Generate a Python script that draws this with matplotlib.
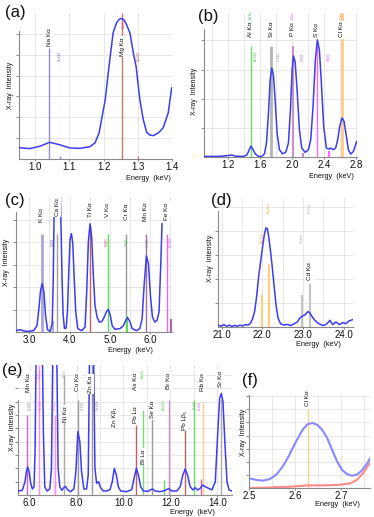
import matplotlib.pyplot as plt
from matplotlib.ticker import MultipleLocator, FormatStrFormatter

plt.rcParams['font.family'] = ['Liberation Sans', 'DejaVu Sans']

# ---- (a) Na / Mg region ----
a_keV = [0.953, 0.985, 1.014, 1.042, 1.068, 1.102, 1.131, 1.160, 1.175, 1.187, 1.196, 1.205,
         1.216, 1.228, 1.238, 1.246, 1.253, 1.260, 1.267, 1.277, 1.287, 1.295, 1.306, 1.316,
         1.326, 1.335, 1.345, 1.360, 1.374, 1.389, 1.399]
a_int = [0.54, 0.50, 0.61, 0.80, 0.70, 0.53, 0.51, 0.59, 0.77, 1.25, 2.05, 2.85,
         4.45, 6.05, 6.53, 6.70, 6.74, 6.67, 6.45, 6.05, 5.09, 4.45, 2.85, 1.89,
         1.28, 1.15, 1.12, 1.25, 1.49, 2.21, 3.41]
a_names = ['Na Kα', 'Mg Kα']
a_line_keV = [1.042, 1.255]
a_line_top = [5.3, 7.0]
a_small = ['Na-Kβ1', 'Mg-Kα', 'Mg-Kβ1']
a_small_keV = [1.073, 1.258, 1.302]

# ---- (b) Al..Cl ----
b_keV = [0.9025, 1.082, 1.207, 1.248, 1.29, 1.394, 1.436, 1.457, 1.486, 1.511, 1.54, 1.582,
         1.623, 1.657, 1.682, 1.707, 1.728, 1.748, 1.769, 1.79, 1.815, 1.844, 1.882, 1.923,
         1.957, 1.982, 2.003, 2.019, 2.04, 2.065, 2.094, 2.123, 2.165, 2.207, 2.236, 2.265,
         2.294, 2.319, 2.344, 2.369, 2.398, 2.432, 2.465, 2.486, 2.515, 2.548, 2.573, 2.598,
         2.628, 2.653, 2.682, 2.707, 2.736, 2.77, 2.811]
b_int = [0.02, 0.02, 0.05, 0.07, 0.03, 0.02, 0.07, 0.19, 0.37, 0.27, 0.11, 0.02,
         0.02, 0.11, 0.48, 1.51, 2.65, 3.05, 2.82, 1.97, 0.82, 0.25, 0.11, 0.16,
         0.48, 1.62, 2.99, 3.47, 3.28, 2.31, 0.94, 0.31, 0.16, 0.25, 0.59, 1.74,
         3.34, 4.02, 3.68, 2.54, 1.05, 0.31, 0.27, 0.31, 0.25, 0.31, 0.59, 1.05,
         1.34, 1.22, 0.71, 0.25, 0.10, 0.19, 0.54]
b_names = ['Al Kα', 'Si Kα', 'P Kα', 'S Kα', 'Cl Kα']
b_line_keV = [1.486, 1.740, 2.013, 2.310, 2.622]
b_line_top = [3.8, 3.8, 3.8, 3.8, 4.94]
b_small = ['Al-Kβ1', 'Si-Kβ1', 'P-Kβ1', 'S-Kβ1']
b_small_keV = [1.557, 1.836, 2.139, 2.464]
b_kb_keV = [2.139, 2.464]
b_kb_top = [0.15, 0.2]

# ---- (c) K..Fe ----
c_keV = [2.670, 2.777, 2.876, 2.984, 3.107, 3.190, 3.239, 3.280, 3.321, 3.363, 3.404, 3.453,
         3.519, 3.569, 3.594, 3.610, 3.627, 3.692, 3.767, 3.791, 3.816, 3.841, 3.874, 3.915,
         3.948, 3.981, 4.014, 4.047, 4.080, 4.113, 4.154, 4.204, 4.303, 4.385, 4.426, 4.467,
         4.509, 4.550, 4.591, 4.632, 4.682, 4.739, 4.805, 4.863, 4.913, 4.962, 5.012, 5.061,
         5.127, 5.251, 5.333, 5.391, 5.440, 5.498, 5.556, 5.663, 5.745, 5.803, 5.852, 5.910,
         5.960, 6.009, 6.059, 6.116, 6.174, 6.223, 6.265, 6.298]
c_int = [0.07, 0.10, 0.04, 0.03, 0.06, 0.27, 1.04, 1.85, 2.15, 1.78, 0.74, 0.10,
         0.03, 0.37, 2.22, 4.44, 6.52, 14.0, 6.52, 4.44, 2.22, 0.74, 0.15, 0.18,
         0.89, 2.67, 4.15, 4.37, 3.93, 2.52, 0.89, 0.15, 0.06, 0.22, 1.78, 4.00,
         4.81, 4.22, 2.52, 1.19, 0.67, 0.44, 0.47, 0.67, 0.89, 1.01, 0.74, 0.27,
         0.12, 0.15, 0.27, 0.50, 0.64, 0.47, 0.15, 0.06, 0.15, 0.59, 2.07, 3.38,
         3.04, 1.63, 0.67, 0.44, 0.52, 0.89, 2.96, 4.81]
c_names = ['K Kα', 'Ca Kα', 'Ti Kα', 'V Kα', 'Cr Kα', 'Mn Kα', 'Fe Kα']
c_line_keV = [3.313, 3.692, 4.510, 4.952, 5.414, 5.899, 6.420]
c_line_top = [4.37, 4.37, 4.75, 4.37, 4.37, 4.37, 4.37]
c_small = ['K-Kβ1', 'Ti-Kβ1', 'V-Kβ1', 'Cr-Kβ1', 'Mn-Kβ1']
c_small_keV = [3.575, 4.932, 5.427, 5.947, 6.520]
c_kb_keV = [3.590, 5.427, 6.520]
c_kb_top = [0.5, 0.7, 0.6]

# ---- (d) Ag / Cd ----
d_keV = [20.910, 20.992, 21.057, 21.123, 21.189, 21.254, 21.320, 21.385, 21.451, 21.516,
         21.582, 21.648, 21.705, 21.762, 21.811, 21.861, 21.910, 21.959, 22.008, 22.049,
         22.090, 22.123, 22.156, 22.197, 22.238, 22.287, 22.336, 22.385, 22.451, 22.533,
         22.615, 22.697, 22.779, 22.861, 22.926, 22.992, 23.057, 23.115, 23.164, 23.221,
         23.287, 23.352, 23.434, 23.516, 23.598, 23.664, 23.730, 23.811, 23.893, 23.975,
         24.057, 24.139, 24.230]
d_int = [0.07, 0.04, 0.10, 0.03, 0.08, 0.01, 0.07, 0.03, 0.08, 0.04,
         0.10, 0.08, 0.15, 0.35, 0.65, 1.28, 2.11, 2.74, 3.36, 3.85,
         4.13, 4.10, 3.78, 3.22, 2.60, 1.76, 0.93, 0.38, 0.13, 0.08,
         0.11, 0.06, 0.13, 0.21, 0.38, 0.46, 0.51, 0.64, 0.60, 0.44,
         0.29, 0.18, 0.10, 0.06, 0.15, 0.28, 0.10, 0.21, 0.10, 0.18,
         0.14, 0.26, 0.31]
d_line_keV = [21.990, 22.163, 22.984, 23.174]
d_line_top = [1.35, 2.64, 1.35, 1.8]
d_small = ['Ag-Kα2', 'Ag-Kα1', 'Cd-Kα2', 'Cd-Kα1']

# ---- (e) Mn..Sr ----
e_keV = [5.500, 5.686, 5.800, 5.857, 5.914, 5.971, 6.043, 6.114, 6.185, 6.228, 6.271, 6.400,
         6.542, 6.585, 6.642, 6.742, 6.856, 6.927, 6.984, 7.070, 7.155, 7.212, 7.284, 7.369,
         7.455, 7.526, 7.612, 7.740, 7.883, 7.968, 8.054, 8.140, 8.211, 8.311, 8.425, 8.496,
         8.553, 8.640, 8.725, 8.782, 8.853, 8.939, 9.024, 9.138, 9.281, 9.424, 9.523, 9.609,
         9.695, 9.780, 9.880, 10.137, 10.351, 10.451, 10.550, 10.636, 10.736, 10.850, 11.064,
         11.164, 11.250, 11.349, 11.563, 11.777, 11.920, 12.063, 12.277, 12.419, 12.533,
         12.633, 12.733, 12.847, 12.961, 13.061, 13.161, 13.275, 13.375, 13.489, 13.632,
         13.775, 13.917, 14.017, 14.103, 14.174, 14.245, 14.331, 14.416, 14.502, 14.630]
e_int = [0.30, 0.35, 1.00, 1.75, 2.12, 1.75, 0.88, 0.45, 0.62, 3.25, 10.5, 40.0,
         10.5, 4.50, 0.62, 0.30, 0.45, 2.00, 10.5, 18.0, 10.5, 2.00, 0.62, 0.35,
         0.55, 0.65, 0.40, 0.25, 0.45, 1.75, 4.75, 4.00, 1.75, 0.45, 0.45, 1.50,
         10.5, 25.0, 10.5, 2.00, 0.88, 1.00, 0.55, 0.30, 0.30, 0.40, 1.00, 2.00,
         1.50, 0.62, 0.30, 0.25, 0.40, 1.25, 2.00, 1.50, 0.62, 0.30, 0.28,
         0.40, 0.45, 0.30, 0.25, 0.35, 0.48, 0.30, 0.30, 0.62, 1.50,
         1.95, 1.50, 0.62, 0.38, 0.55, 0.38, 0.50, 0.75, 0.62, 0.50,
         0.38, 1.00, 4.50, 7.25, 7.62, 7.00, 3.75, 1.00, 0.38, 0.30]
e_names = ['Mn Kα', 'Ni Kα', 'Cu Kα', 'Zn Kα', 'Zn Kβ₁', 'Pb Lα', 'As Kα', 'Bi Lα',
           'Se Kα', 'Br Kα', 'Pb Lβ₁', 'Rb Kα', 'Sr Kα']
e_name_keV = [5.93, 7.52, 8.03, 8.59, 9.61, 10.53, 10.53, 10.84, 11.22, 11.92, 12.59, 13.36, 14.12]
e_line_keV = [5.899, 6.404, 7.058, 7.478, 8.048, 8.639, 10.551, 10.839, 11.222, 11.924,
              12.614, 13.024, 13.395, 14.165]
e_line_top = [6.0, 9.75, 6.0, 9.0, 7.1, 9.75, 5.25, 6.4, 6.1, 7.1, 5.0, 7.1, 7.0, 7.2]
e_small = ['Cr-Kβ1', 'Fe-Kα', 'Mn-Kβ1', 'Fe-Kβ1', 'Ni-Kα', 'Ni-Kβ1', 'Cu-Kβ1',
           'As-Kα', 'As-Kβ1', 'Bi-Lβ1', 'Br-Kβ1']
e_small_keV = [5.99, 6.43, 6.49, 7.06, 7.48, 8.26, 8.90, 10.84, 11.71, 13.03, 13.27]
e_kb_keV = [7.058, 11.726, 13.291]
e_kb_top = [1.0, 1.1, 1.2]

# ---- (f) Cl Ka close-up, two spectra ----
f_keV = [2.5043, 2.5164, 2.5307, 2.545, 2.5593, 2.5736, 2.5879, 2.6021, 2.6164, 2.6271,
         2.6379, 2.6486, 2.6593, 2.670, 2.6807, 2.6914, 2.7021, 2.7129, 2.7236, 2.7343,
         2.745, 2.7557, 2.7629]
f_blue = [0.71, 0.61, 0.56, 0.68, 1.01, 1.65, 2.53, 3.54, 4.43, 4.86,
          4.96, 4.81, 4.43, 3.80, 2.91, 2.03, 1.39, 1.06, 0.94, 1.01,
          1.32, 1.82, 2.23]
f_red_keV = [2.5043, 2.5414, 2.5914, 2.6271, 2.6629, 2.6986, 2.720, 2.7343, 2.7486, 2.7629]
f_red = [0.0, 0.03, 0.10, 0.20, 0.20, 0.25, 0.35, 0.61, 1.16, 1.92]
f_line_keV = 2.629

W, H = 374, 517
fig = plt.figure(figsize=(W / 100, H / 100), dpi=100)
BLUE = '#3c3cf2'
INK = '#111111'


def make_ax(box, xlim, ytop, major, minor, nticks, spine_top):
    l, t, r, b = box
    ax = fig.add_axes([l / W, 1 - b / H, (r - l) / W, (b - t) / H])
    ax.set_xlim(*xlim)
    ax.set_ylim(0, ytop)
    ax.xaxis.set_major_locator(MultipleLocator(major))
    ax.xaxis.set_major_formatter(FormatStrFormatter('%.1f'))
    if minor:
        ax.xaxis.set_minor_locator(MultipleLocator(minor))
    ax.set_yticks(range(1, nticks + 1))
    ax.grid(True, which='both', color='#e3e3e3', lw=0.6)
    ax.set_axisbelow(True)
    for s in ['top', 'right']:
        ax.spines[s].set_visible(False)
    for s in ['left', 'bottom']:
        ax.spines[s].set_color('#8a8a8a')
        ax.spines[s].set_linewidth(0.8)
    ax.spines['left'].set_bounds(0, spine_top)
    ax.tick_params(axis='y', labelleft=False, length=2, color='#777777', width=0.6)
    ax.tick_params(axis='x', which='major', length=1.5, color='#777777', width=0.6,
                   labelsize=7, pad=0.5, labelcolor=INK)
    ax.tick_params(axis='x', which='minor', length=0)
    return ax


def tag(ax, x, y, s, size=4.6):
    ax.text(x, y, s, rotation=90, ha='center', va='center', fontsize=size, color=INK,
            zorder=6, bbox=dict(boxstyle='square,pad=0.2', fc='white', ec='none'))


def tiny(ax, x, y, s, c):
    ax.text(x, y, s, rotation=90, ha='center', va='center', fontsize=2.2, color=c, zorder=5)


def ptext(x, y, s, **kw):
    fig.text(x / W, 1 - y / H, s, ha='center', va='center', **kw)


# panel (a)
ax = make_ax((19, 13, 172, 159), (0.953, 1.4), 7.0, 0.1, None, 6, 6.13)
for k, top, c in zip(a_line_keV, a_line_top, ['#9090d0', '#d07878']):
    ax.vlines(k, 0, top, color=c, lw=1.0, zorder=2)
ax.vlines([1.073, 1.302], 0, 0.13, color=['#9090d0', '#d07878'], lw=1.0, zorder=2)
ax.plot(a_keV, a_int, color=BLUE, lw=1.1, zorder=3)
for k, y, n in zip(a_line_keV, [5.85, 5.4], a_names):
    tag(ax, k, y, n)
for k, y, n, c in zip(a_small_keV, [4.95, 6.5, 4.95], a_small, ['#6a6ac0', '#c05a5a', '#c05a5a']):
    tiny(ax, k, y, n, c)

# panel (b)
ax = make_ax((204, 13, 357, 157), (0.90, 2.815), 4.94, 0.4, 0.2, 4, 4.39)
b_col = ['#66dd66', '#b4b4b4', '#c890c8', '#ff66ff', '#ffcc88']
b_lw = [1.0, 2.0, 1.5, 1.0, 2.0]
for k, top, c, w in zip(b_line_keV, b_line_top, b_col, b_lw):
    ax.vlines(k, 0, top, color=c, lw=w, zorder=2)
ax.vlines(b_kb_keV, 0, b_kb_top, color=['#c890c8', '#ff66ff'], lw=1.5, zorder=2)
ax.plot(b_keV, b_int, color=BLUE, lw=1.1, zorder=3)
for k, n in zip(b_line_keV, b_names):
    tag(ax, k, 4.37, n)
for k, n, c in zip(b_small_keV, b_small, ['#44bb44', '#999999', '#b070b0', '#ee44ee']):
    tiny(ax, k, 3.45, n, c)
tiny(ax, 1.486, 4.86, 'Al-Kα', '#44bb44')
tiny(ax, 2.013, 4.86, 'P-Kα', '#ee66ee')
tiny(ax, 2.622, 4.86, 'Cl-Kα', '#f0a040')

# panel (c)
ax = make_ax((16, 197, 172, 332), (2.67, 6.545), 6.0, 1.0, 0.5, 5, 5.33)
c_col = ['#a8a8d8', '#a0a0a0', '#c06060', '#55dd55', '#999999', '#a070a0', '#ee66ee']
c_lw = [2.0, 1.0, 1.0, 1.0, 1.0, 1.0, 1.0]
for k, top, c, w in zip(c_line_keV, c_line_top, c_col, c_lw):
    ax.vlines(k, 0, top, color=c, lw=w, zorder=2)
ax.vlines(c_kb_keV, 0, c_kb_top, color=['#a8a8d8', '#55dd55', '#aa66aa'], lw=1.5, zorder=2)
ax.plot(c_keV, c_int, color=BLUE, lw=1.1, zorder=3)
for k, y, n in zip(c_line_keV, [5.2, 5.55, 5.45, 5.4, 5.35, 5.35, 5.35], c_names):
    tag(ax, k, y, n)
for k, n, c in zip(c_small_keV, c_small, ['#8060a0', '#c04040', '#44bb44', '#888888', '#dd55dd']):
    tiny(ax, k, 4.0, n, c)

# panel (d)
ax = make_ax((218, 198, 353, 327), (20.91, 24.23), 5.375, 1.0, 0.5, 5, 4.82)
for k, top, c in zip(d_line_keV, d_line_top, ['#ffcc77', '#ffcc77', '#c4c4c4', '#c4c4c4']):
    ax.vlines(k, 0, top, color=c, lw=1.5, zorder=2)
ax.plot(d_keV, d_int, color=BLUE, lw=1.1, zorder=3)
tag(ax, 23.17, 2.32, 'Cd Kα')
for k, y, n, c in zip(d_line_keV, [3.7, 4.95, 3.7, 4.95], d_small,
                      ['#f0a040', '#f0a040', '#aaaaaa', '#aaaaaa']):
    tiny(ax, k, y, n, c)

# panel (e)
ax = make_ax((18, 365, 232, 495), (5.5, 14.63), 9.75, 2.0, 1.0, 9, 7.1)
e_col = ['#cc66cc', '#ff88ff', '#ff88ff', '#aaaaaa', '#999999', '#999999', '#c06060',
         '#77dd77', '#999999', '#cc88cc', '#c06060', '#66dd66', '#ffcc88', '#aaaaaa']
for k, top, c in zip(e_line_keV, e_line_top, e_col):
    ax.vlines(k, 0, top, color=c, lw=1.0, zorder=2)
ax.vlines(e_kb_keV, 0, e_kb_top, color=['#ff88ff', '#66dd66', '#cc66cc'], lw=1.0, zorder=2)
ax.plot(e_keV, e_int, color=BLUE, lw=1.1, zorder=3)
e_label_y = [8.45, 6.07, 8.45, 8.3, 5.87, 6.0, 8.5, 2.9, 6.4, 8.55, 5.6, 8.45, 8.7]
for k, y, n in zip(e_name_keV, e_label_y, e_names):
    tag(ax, k, y, n)
e_small_y = [6.75, 9.1, 6.75, 6.75, 9.1, 6.75, 6.75, 9.1, 6.75, 6.75, 6.75]
e_small_col = ['#888888', '#ee55ee', '#ee55ee', '#ee55ee', '#999999', '#999999', '#7080b0',
               '#44bb44', '#44bb44', '#44bb44', '#bb66bb']
for k, y, n, c in zip(e_small_keV, e_small_y, e_small, e_small_col):
    tiny(ax, k, y, n, c)

# panel (f)
ax = make_ax((249, 395, 370, 488), (2.5, 2.763), 7.09, 0.1, 0.05, 7, 7.09)
ax.vlines(f_line_keV, 0, 6.0, color='#ffcc88', lw=0.9, zorder=2)
ax.plot(f_red_keV, f_red, color='#ff8888', lw=1.5, zorder=3)
ax.plot(f_keV, f_blue, color='#8888ff', lw=1.5, zorder=3)
tag(ax, 2.627, 6.85, 'Cl Kα')

# panel letters, axis titles
for x, y, s in [(15, 13, '(a)'), (208, 16, '(b)'), (15, 200, '(c)'),
                (221, 201, '(d)'), (12, 371, '(e)'), (250, 381, '(f)')]:
    ptext(x, y, s, fontsize=12, color=INK)
for x, y in [(11, 85), (195, 91), (7, 262), (210, 258), (12, 427), (243, 432)]:
    ptext(x, y, 'X-ray  Intensity', fontsize=5, rotation=90, color=INK)
for x, y in [(148, 178), (331, 176), (130, 350), (318, 344), (192, 512), (337, 505)]:
    ptext(x, y, 'Energy  (keV)', fontsize=5.3, color=INK)

fig.savefig('out.png', dpi=100)
